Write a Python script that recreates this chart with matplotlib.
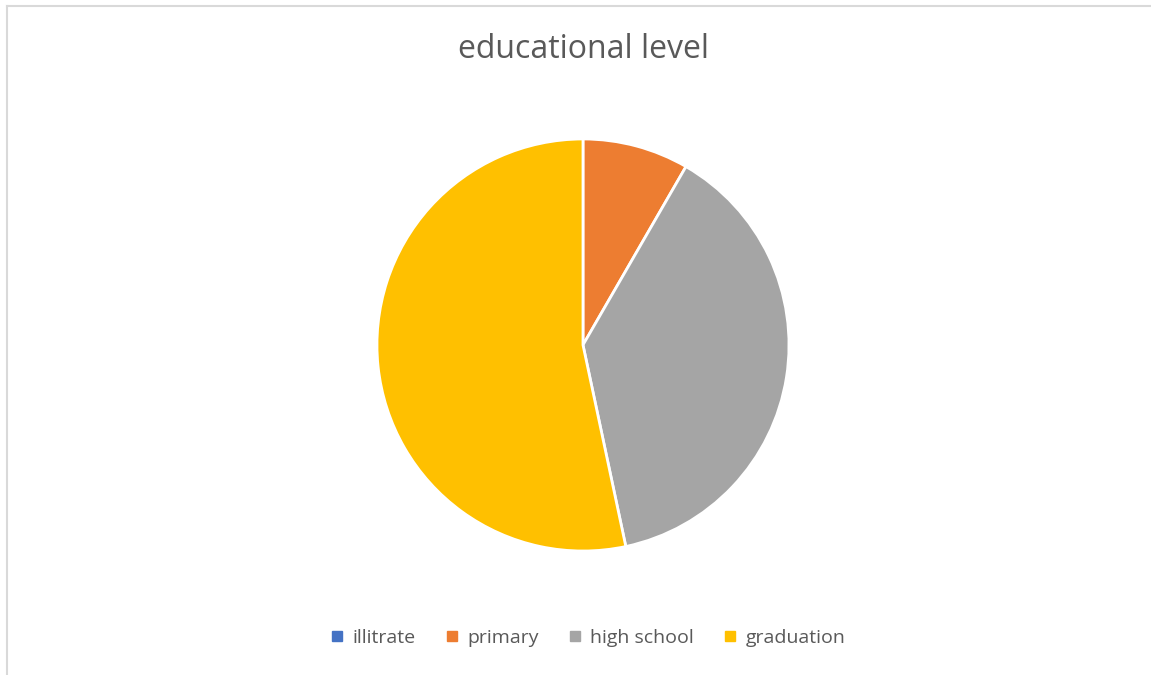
import matplotlib.pyplot as plt
from matplotlib.lines import Line2D

# education level counts
levels = ["illitrate", "primary", "high school", "graduation"]
counts = [0, 5, 23, 32]
colors = ["#4472C4", "#ED7D31", "#A5A5A5", "#FFC000"]

plt.rcParams["font.family"] = ["Open Sans", "DejaVu Sans"]

fig = plt.figure(figsize=(11.51, 6.75), dpi=100)

# thin chart-area frame
fig.add_artist(Line2D([6.5 / 1151, 1.0], [1 - 5.5 / 675, 1 - 5.5 / 675],
                      color="#d9d9d9", lw=1.5))
fig.add_artist(Line2D([6.5 / 1151, 6.5 / 1151], [0.0, 1 - 5.5 / 675],
                      color="#d9d9d9", lw=1.5))

ax = fig.add_axes([0.3284, 0.1852, 0.3562, 0.6074])
ax.pie(counts, colors=colors, startangle=90, counterclock=False,
       wedgeprops={"edgecolor": "white", "linewidth": 2})
ax.set_xlim(-0.995, 0.995)
ax.set_ylim(-0.995, 0.995)

fig.text(583 / 1151, 1 - 49 / 675, "educational level", ha="center", va="center",
         fontsize=23, color="#595959")

handles = [Line2D([], [], marker="s", ls="", markersize=6.5, color=c) for c in colors]
fig.legend(handles, levels, loc="center", bbox_to_anchor=(588 / 1151, 1 - 638 / 675),
           ncol=4, frameon=False, fontsize=14, labelcolor="#595959",
           handlelength=0.7, handletextpad=0.45, columnspacing=1.5)

fig.savefig("out.png", dpi=100, facecolor="white")
